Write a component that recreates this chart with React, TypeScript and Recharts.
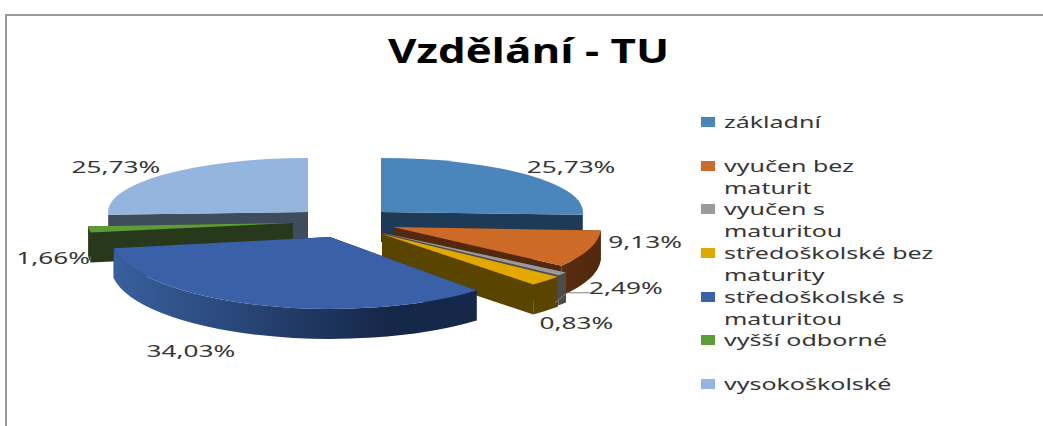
import { Legend, Pie, PieChart } from "recharts";

const categories = [
  "základní",
  "vyučen bez\nmaturit",
  "vyučen s\nmaturitou",
  "středoškolské bez\nmaturity",
  "středoškolské s\nmaturitou",
  "vyšší odborné",
  "vysokoškolské",
];
// grey wedge is the thin one in the picture, yellow the wider one
const shares = [25.73, 9.13, 0.83, 2.49, 34.03, 1.66, 25.73];

const topColors = ["#4a86bb", "#cd6a28", "#9a9a9a", "#e2a800", "#3a61a8", "#5e9c38", "#94b5de"];
const wallFrom = ["#1f3a56", "#5a2e10", "#4c4c4c", "#5a4500", "#38609e", "#27391a", "#3e4c5e"];
const wallTo = ["#1f3a56", "#52290c", "#4c4c4c", "#5a4500", "#16284a", "#27391a", "#3e4c5e"];

// back to front, the order the slabs have to be painted in
const drawOrder = [6, 0, 1, 2, 3, 5, 4];

const CX = 340;
const CY = 220;
const R = 200;
const DEPTH = 30;

// exploded slices: apex shift from the centre and projected radii
const shiftX = [41, 53, 43, 42, -10, -47, -32];
const shiftY = [-8, 7, 13, 14, 17, 3, -8];
const radiusX = [202, 208, 226, 226, 219, 205, 200];
const radiusY = [54, 66, 67, 68, 72, 60, 54];

const labelDx = [43.5, 56, 14, 80, -66, -36, -47];
const labelDy = [-8, -7, 49, 7, 46, 29, -8];

const tableData = categories.map((name, i) => ({ name, value: shares[i] }));

function rim(i: number, deg: number) {
  const t = (deg * Math.PI) / 180;
  return {
    x: CX + shiftX[i] + radiusX[i] * Math.sin(t),
    y: CY + shiftY[i] - radiusY[i] * Math.cos(t),
  };
}

function Slab({ index, startAngle, endAngle }: any) {
  const t0 = 90 - startAngle;
  const t1 = 90 - endAngle;
  const ax = CX + shiftX[index];
  const ay = CY + shiftY[index];
  const rx = radiusX[index];
  const ry = radiusY[index];
  const a = rim(index, t0);
  const b = rim(index, t1);
  const large = t1 - t0 > 180 ? 1 : 0;
  const top = `M${ax} ${ay}L${a.x} ${a.y}A${rx} ${ry} 0 ${large} 1 ${b.x} ${b.y}Z`;
  const cut = (p: { x: number; y: number }) =>
    `M${ax} ${ay}L${p.x} ${p.y}L${p.x} ${p.y + DEPTH}L${ax} ${ay + DEPTH}Z`;
  const w0 = Math.max(t0, 90);
  const w1 = Math.min(t1, 270);
  let wall = "";
  if (w1 > w0) {
    const p = rim(index, w0);
    const q = rim(index, w1);
    wall = `M${p.x} ${p.y}A${rx} ${ry} 0 0 1 ${q.x} ${q.y}L${q.x} ${q.y + DEPTH}A${rx} ${ry} 0 0 0 ${p.x} ${p.y + DEPTH}Z`;
  }
  const id = `wall-${index}`;
  return (
    <g>
      <defs>
        <linearGradient id={id} x1="0" y1="0" x2="1" y2="0">
          <stop offset="0%" stopColor={wallFrom[index]} />
          <stop offset="75%" stopColor={wallTo[index]} />
          <stop offset="100%" stopColor={wallTo[index]} />
        </linearGradient>
      </defs>
      <path d={cut(a)} fill={wallTo[index]} />
      <path d={cut(b)} fill={wallTo[index]} />
      {wall && <path d={wall} fill={`url(#${id})`} />}
      <path d={top} fill={topColors[index]} />
    </g>
  );
}

function ValueLabel({ index, value, midAngle }: any) {
  const p = rim(index, 90 - midAngle);
  const x = p.x + labelDx[index];
  const y = p.y + labelDy[index];
  const text = `${Number(value).toFixed(2).replace(".", ",")}%`;
  return (
    <g>
      {index === 3 && (
        <polyline
          points={`${x - 36},${y + 5} ${x - 59},${y + 5} ${x - 71},${y + 15}`}
          fill="none"
          stroke="#7f7f7f"
        />
      )}
      <g transform={`translate(${x},${y}) scale(1.54,1)`}>
        <text textAnchor="middle" dy="0.36em" fontFamily="'Noto Sans'" fontSize={17} fill="#363636">
          {text}
        </text>
      </g>
    </g>
  );
}

function LegendList({ payload }: any) {
  return (
    <div>
      {(payload || []).slice(0, categories.length).map((entry: any, i: number) => (
        <div key={i} style={{ position: "relative", height: 43.7 }}>
          <span style={{ position: "absolute", left: 0, top: 6, width: 14, height: 10, background: topColors[i] }} />
          <span
            style={{
              position: "absolute",
              left: 23,
              top: 0,
              whiteSpace: "pre",
              lineHeight: "22px",
              fontFamily: "'Noto Sans'",
              fontSize: 17,
              color: "#363636",
              transform: "scaleX(1.47)",
              transformOrigin: "left top",
            }}
          >
            {entry.value}
          </span>
        </div>
      ))}
    </div>
  );
}

export default function App() {
  return (
    <div style={{ position: "absolute", left: 0, top: 0, width: 1043, height: 426, background: "#fff", overflow: "hidden" }}>
      <div style={{ position: "absolute", left: 5, top: 14, right: -4, bottom: -4, border: "2px solid #999" }} />
      <div
        style={{
          position: "absolute",
          left: 388,
          top: 26,
          fontFamily: "'Open Sans'",
          fontWeight: 700,
          fontSize: 34,
          lineHeight: "48px",
          color: "#000",
          whiteSpace: "pre",
          transform: "scaleX(1.29)",
          transformOrigin: "left top",
        }}
      >
        Vzdělání - TU
      </div>
      <div style={{ position: "absolute", left: 0, top: 0 }}>
        <PieChart width={1043} height={426} margin={{ top: 0, right: 0, bottom: 0, left: 0 }}>
          {drawOrder.map((slice, n) => (
            <Pie
              key={slice}
              data={tableData}
              dataKey="value"
              nameKey="name"
              cx={CX}
              cy={CY}
              outerRadius={R}
              startAngle={90}
              endAngle={-270}
              stroke="none"
              legendType={n === 0 ? "rect" : "none"}
              isAnimationActive={false}
              labelLine={false}
              label={n === drawOrder.length - 1 ? (p: any) => <ValueLabel {...p} /> : false}
              shape={(p: any) => (p.index === slice ? <Slab {...p} /> : <g />)}
            />
          ))}
          <Legend
            layout="vertical"
            align="right"
            verticalAlign="top"
            itemSorter={null}
            content={(p: any) => <LegendList {...p} />}
            wrapperStyle={{ position: "absolute", left: 701, top: 111, width: 300 }}
          />
        </PieChart>
      </div>
    </div>
  );
}
